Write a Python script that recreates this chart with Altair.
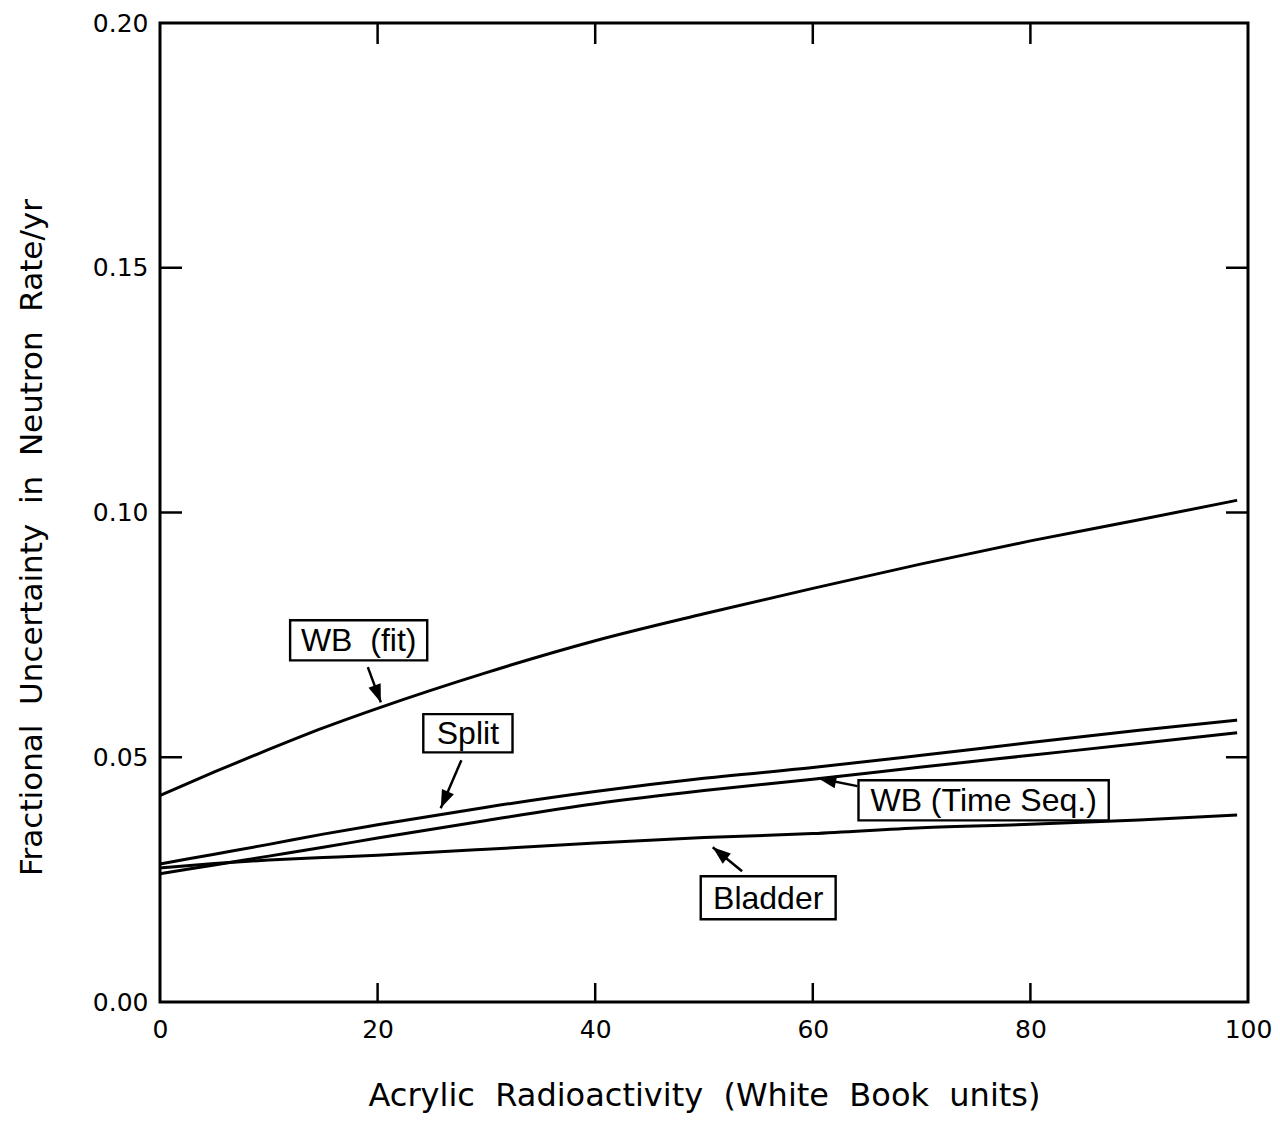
import altair as alt
import pandas as pd

# ---- data ----
x_vals = [0, 5, 10, 15, 20, 30, 40, 50, 60, 70, 80, 90, 99]
wb_fit = [0.0422, 0.0470, 0.0516, 0.0560, 0.0600, 0.0673, 0.0738, 0.0793, 0.0845, 0.0895, 0.0942, 0.0985, 0.1025]
split = [0.0282, 0.0302, 0.0322, 0.0343, 0.0362, 0.0398, 0.0430, 0.0457, 0.0479, 0.0504, 0.0530, 0.0555, 0.0576]
wb_time_seq = [0.0262, 0.0280, 0.0298, 0.0316, 0.0335, 0.0371, 0.0405, 0.0432, 0.0455, 0.0480, 0.0504, 0.0528, 0.0550]
bladder = [0.0274, 0.0283, 0.0290, 0.0295, 0.0300, 0.0312, 0.0325, 0.0336, 0.0344, 0.0356, 0.0363, 0.0372, 0.0382]
series_names = ["WB (fit)", "Split", "WB (Time Seq.)", "Bladder"]

x_ticks = [0, 20, 40, 60, 80, 100]
y_ticks = [0.00, 0.05, 0.10, 0.15, 0.20]
x_inner_ticks = [20, 40, 60, 80]
y_inner_ticks = [0.05, 0.10, 0.15]

# annotation labels (text, box in data units)
ann_text = ["WB\u00a0\u00a0(fit)", "Split", "WB (Time Seq.)", "Bladder"]
ann_x1 = [11.96, 24.2, 64.2, 49.7]
ann_x2 = [24.56, 32.4, 87.2, 62.1]
ann_y1 = [0.0698, 0.0510, 0.0371, 0.0169]
ann_y2 = [0.0780, 0.0588, 0.0453, 0.0257]
# arrows: tail -> tip, angle of the head (deg, clockwise from up)
arr_x = [19.1, 27.7, 64.1, 53.5]
arr_y = [0.0684, 0.0494, 0.0441, 0.0267]
arr_x2 = [20.3, 25.8, 60.5, 50.8]
arr_y2 = [0.0612, 0.0396, 0.0457, 0.0316]
arr_angle = [159.6, 203.6, 281.6, 308.7]

W, H = 1088, 979
FONT = "Liberation Sans"
LFONT = "DejaVu Sans"

rows = []
for name, vals in zip(series_names, [wb_fit, split, wb_time_seq, bladder]):
    for xv, yv in zip(x_vals, vals):
        rows.append({"x": xv, "y": yv, "series": name})
df = pd.DataFrame(rows)

xscale = alt.Scale(domain=[0, 100], nice=False, zero=False)
yscale = alt.Scale(domain=[0, 0.2], nice=False, zero=False)

xaxis = alt.Axis(values=x_ticks,
                 title="Acrylic\u00a0 Radioactivity\u00a0 (White\u00a0 Book\u00a0 units)",
                 format="d", ticks=False, domain=False, grid=False, labelFlush=False,
                 labelFont=LFONT, labelFontSize=25, labelPadding=15, labelColor="black",
                 titleFont=LFONT, titleFontSize=32, titleFontWeight="normal",
                 titleY=103, titleBaseline="alphabetic", titleColor="black")
yaxis = alt.Axis(values=y_ticks,
                 title="Fractional\u00a0 Uncertainty\u00a0 in\u00a0 Neutron\u00a0 Rate/yr",
                 format=".2f", ticks=False, domain=False, grid=False, labelFlush=False,
                 labelFont=LFONT, labelFontSize=25, labelPadding=12, labelColor="black",
                 titleFont=LFONT, titleFontSize=31, titleFontWeight="normal",
                 titleX=-112, titleY=514, titleColor="black")


def X(field):
    return alt.X(field, scale=xscale, axis=xaxis)


def Y(field):
    return alt.Y(field, scale=yscale, axis=yaxis)


lines = alt.Chart(df).mark_line(color="black", strokeWidth=3, interpolate="monotone").encode(
    x=X("x:Q"), y=Y("y:Q"), detail="series:N")

xt = pd.DataFrame({"x": x_inner_ticks})
yt = pd.DataFrame({"y": y_inner_ticks})
tick_bottom = alt.Chart(xt).mark_rule(color="black", strokeWidth=2.5).encode(
    x=X("x:Q"), y=alt.value(H), y2=alt.value(H - 19))
tick_top = alt.Chart(xt).mark_rule(color="black", strokeWidth=2.5).encode(
    x=X("x:Q"), y=alt.value(0), y2=alt.value(21))
tick_left = alt.Chart(yt).mark_rule(color="black", strokeWidth=2.5).encode(
    y=Y("y:Q"), x=alt.value(0), x2=alt.value(22))
tick_right = alt.Chart(yt).mark_rule(color="black", strokeWidth=2.5).encode(
    y=Y("y:Q"), x=alt.value(W), x2=alt.value(W - 22))

ann = pd.DataFrame({"text": ann_text, "x": ann_x1, "x2": ann_x2, "y": ann_y1, "y2": ann_y2})
ann["xc"] = (ann["x"] + ann["x2"]) / 2
ann["yc"] = (ann["y"] + ann["y2"]) / 2

boxes = alt.Chart(ann).mark_rect(fill="white", stroke="black", strokeWidth=2.4).encode(
    x=X("x:Q"), x2="x2:Q", y=Y("y:Q"), y2="y2:Q")
texts = alt.Chart(ann).mark_text(font=FONT, fontSize=32, color="black", align="center", baseline="middle", dy=1).encode(
    x=X("xc:Q"), y=Y("yc:Q"), text="text:N")

arr = pd.DataFrame({"x": arr_x, "y": arr_y, "x2": arr_x2, "y2": arr_y2, "angle": arr_angle})
shafts = alt.Chart(arr).mark_rule(color="black", strokeWidth=2.5).encode(
    x=X("x:Q"), x2="x2:Q", y=Y("y:Q"), y2="y2:Q")
heads = alt.Chart(arr).mark_point(
    shape="M0,0 L-0.36,1 L0.36,1 Z", filled=True, color="black", opacity=1, size=1300, strokeWidth=0
).encode(
    x=X("x2:Q"), y=Y("y2:Q"),
    angle=alt.Angle("angle:Q", scale=None))

chart = alt.layer(lines, tick_bottom, tick_top, tick_left, tick_right, boxes, texts, shafts, heads).properties(
    width=W, height=H,
    autosize=alt.AutoSizeParams(type="none"),
    padding={"left": 152, "top": 15, "right": 24, "bottom": 116},
    background="white",
).configure_view(stroke="black", strokeWidth=3)

chart.save("out.html", embed_options={"renderer": "svg", "actions": False})
